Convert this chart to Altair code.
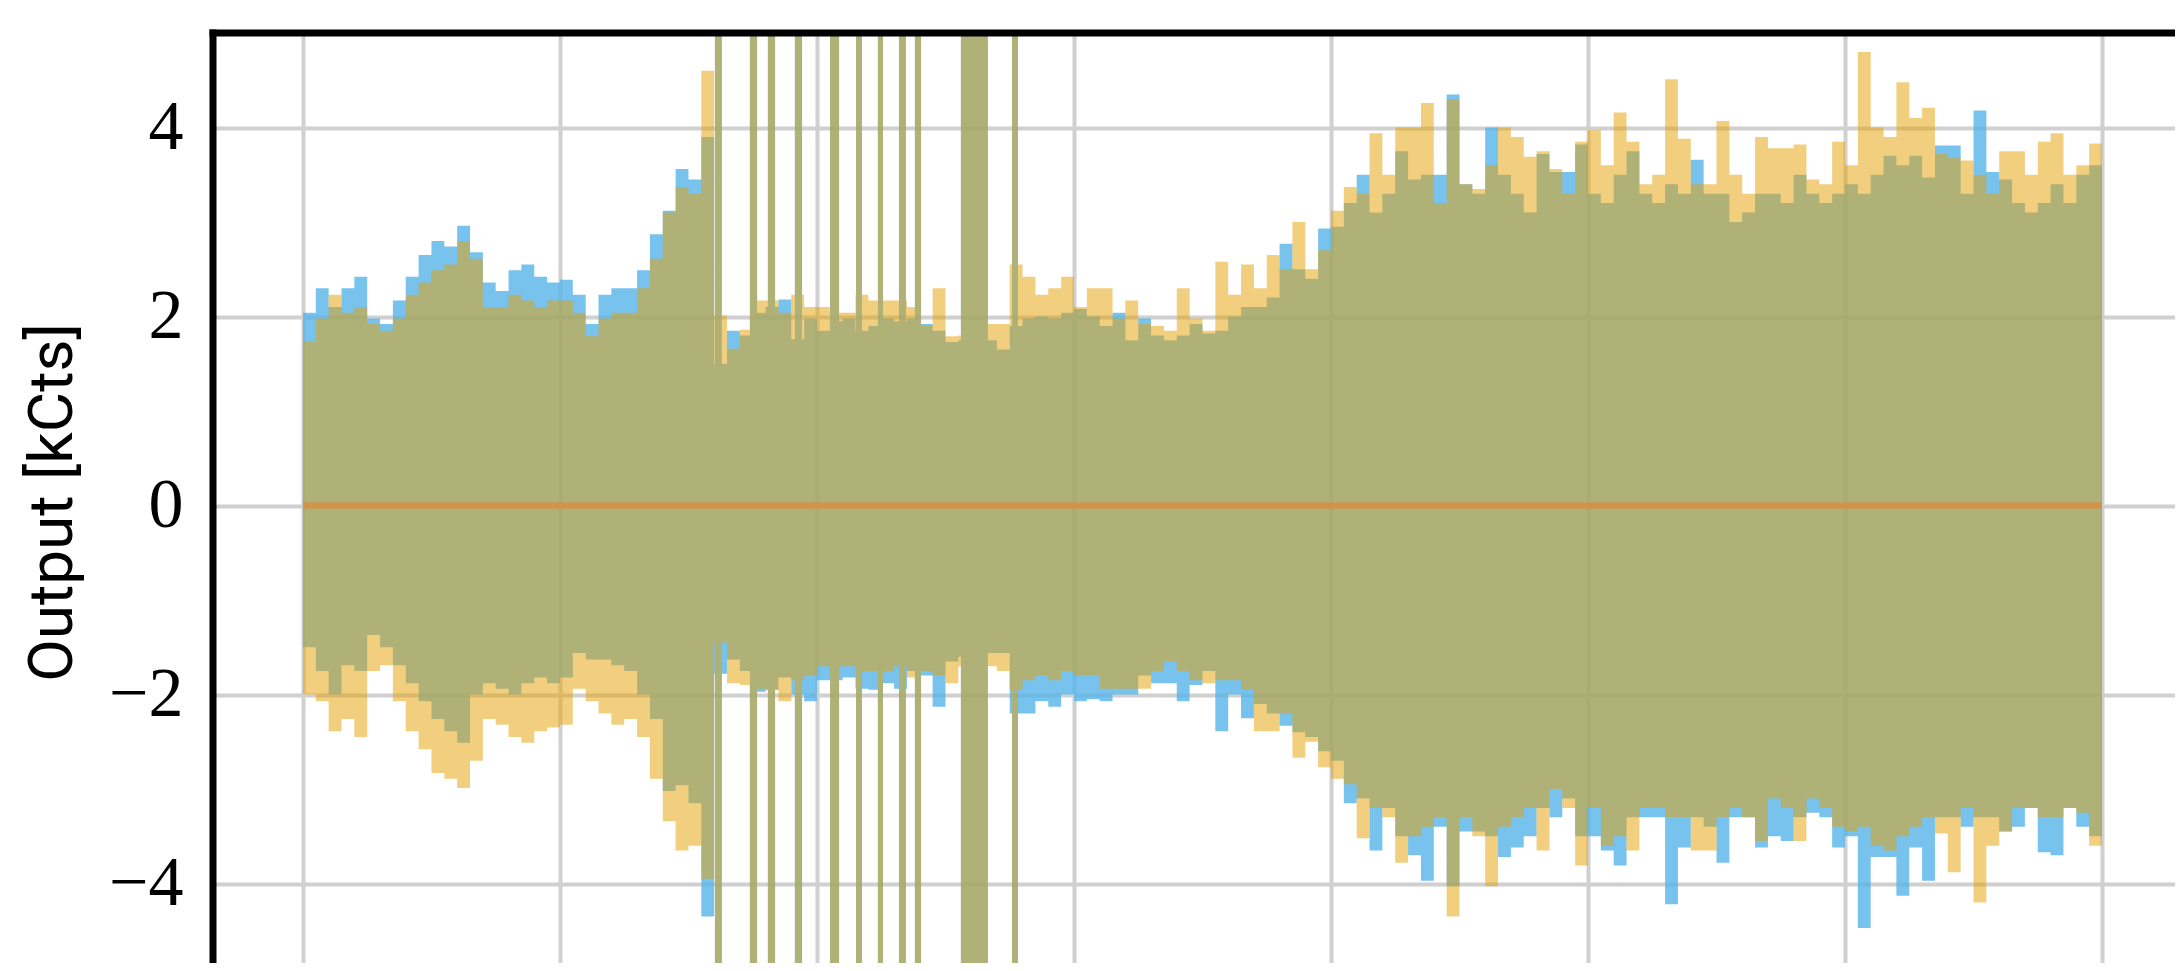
import altair as alt
import numpy as np
import pandas as pd

# ---- data -----------------------------------------------------------------
step = 0.05  # sample spacing of the envelopes (x units = grid spacing 1)

blue_hi = [
    2.04, 2.30, 2.10, 2.30, 2.42, 1.98, 1.92, 2.17, 2.42, 2.65,
    2.80, 2.74, 2.96, 2.68, 2.36, 2.27, 2.49, 2.55, 2.42, 2.36,
    2.39, 2.23, 1.92, 2.23, 2.30, 2.30, 2.49, 2.87, 3.12, 3.56,
    3.45, 3.90, 1.50, 1.85, 1.80, 2.04, 2.10, 2.18, 1.76, 1.98,
    1.85, 1.95, 1.98, 1.85, 1.90, 1.98, 1.95, 1.98, 1.92, 1.85,
    1.73, 1.75, 1.75, 1.75, 1.65, 1.90, 1.98, 2.00, 1.98, 2.04,
    2.08, 2.00, 1.90, 2.04, 1.75, 1.98, 1.80, 1.75, 1.80, 1.92,
    1.82, 1.85, 2.00, 2.10, 2.10, 2.20, 2.77, 2.50, 2.40, 2.93,
    2.95, 3.20, 3.50, 3.10, 3.30, 3.75, 3.45, 3.50, 3.50, 4.35,
    3.40, 3.30, 4.00, 3.50, 3.30, 3.10, 3.72, 3.53, 3.53, 3.82,
    3.30, 3.20, 3.50, 3.75, 3.30, 3.20, 3.40, 3.30, 3.66, 3.30,
    3.30, 3.00, 3.10, 3.30, 3.30, 3.20, 3.50, 3.30, 3.20, 3.30,
    3.40, 3.30, 3.50, 3.70, 3.60, 3.70, 3.47, 3.81, 3.81, 3.30,
    4.18, 3.53, 3.45, 3.20, 3.10, 3.20, 3.40, 3.20, 3.50, 3.60,
    3.92,
]
blue_lo = [
    -1.50, -1.75, -2.00, -1.69, -1.75, -1.37, -1.50, -1.69, -1.88, -2.07,
    -2.26, -2.39, -2.51, -2.00, -1.88, -1.94, -2.00, -1.88, -1.82, -1.88,
    -1.82, -1.56, -1.63, -1.63, -1.69, -1.75, -2.00, -2.26, -3.02, -2.96,
    -3.15, -4.35, -1.78, -1.63, -1.75, -1.97, -1.95, -1.82, -2.00, -2.07,
    -1.85, -1.85, -1.82, -1.94, -1.95, -1.88, -1.94, -1.75, -1.80, -2.13,
    -1.65, -1.60, -1.60, -1.56, -1.56, -2.20, -2.20, -2.07, -2.13, -2.00,
    -2.07, -2.05, -2.07, -2.00, -2.00, -1.80, -1.88, -1.88, -2.07, -1.90,
    -1.75, -2.39, -2.00, -2.25, -2.10, -2.20, -2.33, -2.40, -2.45, -2.60,
    -2.70, -3.15, -3.10, -3.65, -3.20, -3.50, -3.70, -3.97, -3.40, -4.03,
    -3.45, -3.45, -3.50, -3.72, -3.62, -3.50, -3.20, -3.30, -3.10, -3.50,
    -3.50, -3.65, -3.81, -3.30, -3.30, -3.30, -4.22, -3.62, -3.30, -3.40,
    -3.78, -3.30, -3.30, -3.62, -3.50, -3.55, -3.30, -3.25, -3.30, -3.62,
    -3.50, -4.47, -3.72, -3.72, -4.13, -3.62, -3.97, -3.30, -3.30, -3.40,
    -3.30, -3.30, -3.45, -3.40, -3.20, -3.67, -3.70, -3.20, -3.40, -3.50,
    -3.30,
]
orange_hi = [
    1.73, 1.98, 2.23, 2.04, 2.10, 1.92, 1.85, 1.98, 2.23, 2.36,
    2.49, 2.55, 2.80, 2.61, 2.10, 2.10, 2.23, 2.17, 2.10, 2.17,
    2.17, 2.04, 1.79, 1.98, 2.04, 2.04, 2.30, 2.61, 3.10, 3.37,
    3.30, 4.60, 2.01, 1.66, 1.86, 2.17, 2.17, 2.04, 2.23, 2.10,
    2.10, 2.04, 2.04, 2.23, 2.17, 2.17, 2.17, 2.10, 1.90, 2.30,
    1.79, 1.80, 1.80, 1.92, 1.92, 2.55, 2.42, 2.23, 2.30, 2.42,
    2.10, 2.30, 2.30, 1.98, 2.17, 1.92, 1.90, 1.85, 2.30, 1.98,
    1.85, 2.58, 2.23, 2.55, 2.30, 2.65, 2.50, 3.00, 2.50, 2.70,
    3.12, 3.37, 3.30, 3.94, 3.50, 4.00, 4.00, 4.26, 3.20, 4.30,
    3.40, 3.35, 3.60, 4.00, 3.90, 3.69, 3.75, 3.56, 3.30, 3.85,
    3.97, 3.60, 4.16, 3.85, 3.40, 3.50, 4.51, 3.88, 3.40, 3.40,
    4.07, 3.50, 3.30, 3.90, 3.78, 3.78, 3.82, 3.45, 3.40, 3.85,
    3.60, 4.80, 4.00, 3.90, 4.48, 4.10, 4.21, 3.72, 3.68, 3.65,
    3.50, 3.30, 3.75, 3.75, 3.50, 3.85, 3.94, 3.50, 3.60, 3.83,
    3.00,
]
orange_lo = [
    -2.00, -2.07, -2.39, -2.26, -2.45, -1.75, -1.69, -2.07, -2.39, -2.58,
    -2.83, -2.89, -2.99, -2.70, -2.26, -2.32, -2.45, -2.51, -2.39, -2.35,
    -2.32, -1.94, -2.07, -2.20, -2.32, -2.26, -2.45, -2.89, -3.34, -3.65,
    -3.60, -3.95, -1.45, -1.88, -1.90, -1.94, -1.95, -2.07, -1.85, -1.80,
    -1.70, -1.70, -1.70, -1.75, -1.75, -1.75, -1.70, -1.82, -1.75, -1.80,
    -1.88, -1.70, -1.70, -1.70, -1.75, -1.95, -1.85, -1.80, -1.85, -1.75,
    -1.80, -1.80, -1.94, -1.94, -1.94, -1.94, -1.75, -1.65, -1.75, -1.85,
    -1.88, -1.85, -1.85, -1.95, -2.39, -2.39, -2.20, -2.67, -2.50, -2.77,
    -2.89, -2.95, -3.52, -3.20, -3.30, -3.78, -3.50, -3.40, -3.30, -4.35,
    -3.30, -3.50, -4.03, -3.40, -3.30, -3.20, -3.65, -3.00, -3.20, -3.81,
    -3.20, -3.60, -3.50, -3.65, -3.20, -3.20, -3.30, -3.30, -3.65, -3.65,
    -3.30, -3.20, -3.30, -3.55, -3.10, -3.20, -3.55, -3.10, -3.20, -3.40,
    -3.45, -3.40, -3.60, -3.65, -3.50, -3.40, -3.30, -3.47, -3.88, -3.20,
    -4.20, -3.60, -3.45, -3.20, -3.20, -3.30, -3.30, -3.20, -3.25, -3.60,
    -4.04,
]

# glitches: both channels saturate (beyond the axis range)
stripe_start = [1.603, 1.739, 1.809, 1.914, 2.051, 2.152, 2.237, 2.319, 2.381, 2.560, 2.759]
stripe_end = [1.630, 1.767, 1.837, 1.942, 2.086, 2.175, 2.257, 2.346, 2.405, 2.665, 2.782]
glitch_level = 5.6

mean_x = [0.0, 7.0]
mean_y = [0.0, 0.0]

grid_x = [0, 1, 2, 3, 4, 5, 6, 7]
y_ticks = [-4, -2, 0, 2, 4]


def build(lo, hi, name):
    xs = [round(i * step, 4) for i in range(len(lo))]
    pts = sorted(set(xs + stripe_start + stripe_end))
    rows = []
    for p in pts:
        inside = any(a <= p < b for a, b in zip(stripe_start, stripe_end))
        if inside:
            rows.append((p, -glitch_level, glitch_level, name))
        else:
            k = min(int(np.floor(p / step + 1e-9)), len(lo) - 1)
            rows.append((p, lo[k], hi[k], name))
    return pd.DataFrame(rows, columns=["t", "lo", "hi", "series"])


df_blue = build(blue_lo, blue_hi, "A")
df_orange = build(orange_lo, orange_hi, "B")
df_mean = pd.DataFrame({"t": mean_x, "v": mean_y})

# ---- layout ----------------------------------------------------------------
W, H = 1962, 930
xscale = alt.Scale(domain=[-0.35, 7.284], nice=False, zero=False)
yscale = alt.Scale(domain=[-4.841, 5.0], nice=False, zero=False)

x_axis = alt.Axis(values=grid_x, labels=False, ticks=False, domain=False, title=None,
                  grid=True, gridColor="#D0D0D0", gridWidth=4)
y_axis = alt.Axis(values=y_ticks, format="d", ticks=False, tickSize=0, domain=False, grid=True,
                  gridColor="#D0D0D0", gridWidth=4,
                  labelFont="Liberation Serif", labelFontSize=70, labelColor="black",
                  labelPadding=30,
                  title="Output [kCts]", titleFont="Roboto", titleFontSize=62,
                  titleFontWeight="normal", titleColor="black", titleAngle=270,
                  titleX=-142, titleY=469, titleAlign="center", titleBaseline="alphabetic")

blue = alt.Chart(df_blue).mark_area(
    interpolate="step-after", color="#56B4E9", opacity=0.8, clip=True
).encode(
    x=alt.X("t:Q", scale=xscale, axis=x_axis),
    y=alt.Y("lo:Q", scale=yscale, axis=y_axis),
    y2="hi:Q",
)

orange = alt.Chart(df_orange).mark_area(
    interpolate="step-after", color="#E69F00", opacity=0.5, clip=True
).encode(
    x=alt.X("t:Q", scale=xscale),
    y=alt.Y("lo:Q", scale=yscale),
    y2="hi:Q",
)

mean = alt.Chart(df_mean).mark_line(color="#D6924A", strokeWidth=6, clip=True).encode(
    x=alt.X("t:Q", scale=xscale),
    y=alt.Y("v:Q", scale=yscale),
)

frame_data = alt.Data(values=[{"f": 1}])
top_frame = alt.Chart(frame_data).mark_rule(color="black", strokeWidth=7).encode(
    x=alt.value(-3.5), x2=alt.value(W), y=alt.value(0)
)
left_frame = alt.Chart(frame_data).mark_rule(color="black", strokeWidth=7).encode(
    x=alt.value(0), y=alt.value(-3.5), y2=alt.value(H)
)

chart = alt.layer(blue, orange, mean, top_frame, left_frame).properties(
    width=W,
    height=H,
    autosize=alt.AutoSizeParams(type="none"),
    padding={"left": 205, "top": 25, "right": 0, "bottom": 0},
).configure_view(strokeWidth=0)

chart.save("out.html", embed_options={"renderer": "svg", "actions": False})
